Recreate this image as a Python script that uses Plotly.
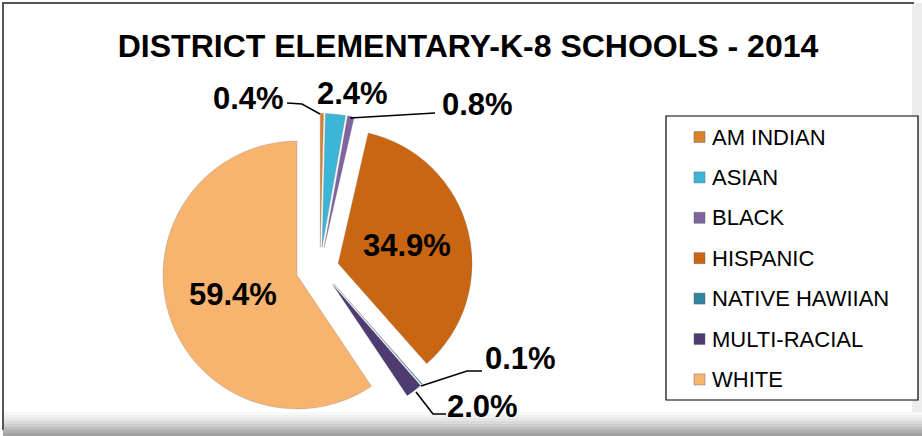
import plotly.graph_objects as go

# ---- data ----
categories = ["AM INDIAN", "ASIAN", "BLACK", "HISPANIC", "NATIVE HAWIIAN", "MULTI-RACIAL", "WHITE"]
values = [0.4, 2.4, 0.8, 34.9, 0.1, 2.0, 59.4]
title_text = "DISTRICT ELEMENTARY-K-8 SCHOOLS - 2014"

# ---- styles ----
colors = ["#D9822B", "#3DB5D6", "#8064A2", "#CA6612", "#31859C", "#4E3B72", "#F8B46F"]
pulls = [0.155, 0.155, 0.155, 0.14, 0.155, 0.155, 0.18]
inside_mask = [False, False, False, True, False, False, True]

W, H = 922, 436
FONT = "Liberation Sans, Arial, sans-serif"


def px(x, y):
    return x / W, 1 - y / H


fig = go.Figure()
fig.add_trace(go.Pie(
    labels=categories,
    values=values,
    sort=False,
    direction="clockwise",
    rotation=0,
    pull=pulls,
    marker=dict(colors=colors, line=dict(color="rgba(120,120,120,0.5)", width=0.6)),
    texttemplate=["%{value:.1f}%" if m else "" for m in inside_mask],
    textposition=["inside" if m else "none" for m in inside_mask],
    insidetextorientation="horizontal",
    textfont=dict(family=FONT, size=31, color="black", weight="bold"),
    showlegend=False,
    domain=dict(x=[162 / W, 478 / W], y=[1 - 426 / H, 1 - 110 / H]),
    hoverinfo="label+percent",
))

shapes = []
annotations = []

# outside labels for small slices (text from data)
label_pos = {0: (249, 98), 1: (352, 93), 2: (477, 104), 4: (520, 358), 5: (482, 406)}
for i, (x, y) in label_pos.items():
    xx, yy = px(x, y)
    annotations.append(dict(x=xx, y=yy, xref="paper", yref="paper", text=f"<b>{values[i]:.1f}%</b>",
                            showarrow=False, font=dict(family=FONT, size=31, color="black"),
                            xanchor="center", yanchor="middle"))

leaders = [
    [(287, 103), (302, 104), (320, 114)],
    [(435, 113), (350, 118)],
    [(482, 371), (467, 371), (421, 386)],
    [(416, 392), (433, 414), (446, 414)],
]
for pts in leaders:
    d = "M " + " L ".join(f"{px(x, y)[0]:.5f},{px(x, y)[1]:.5f}" for x, y in pts)
    shapes.append(dict(type="path", path=d, xref="paper", yref="paper",
                       line=dict(color="black", width=1.6)))

# legend (manual)
lx0, ly0, lx1, ly1 = 666, 116, 918, 400
a, b = px(lx0, ly0)
c, d = px(lx1, ly1)
shapes.append(dict(type="rect", x0=a, y0=d, x1=c, y1=b, xref="paper", yref="paper",
                   line=dict(color="black", width=1.2), fillcolor="white"))
item_y0, item_dy = 137, 40.4
for k, (cat, col) in enumerate(zip(categories, colors)):
    yc = item_y0 + k * item_dy
    s0 = px(694, yc - 5.5)
    s1 = px(705, yc + 5.5)
    shapes.append(dict(type="rect", x0=s0[0], y0=s1[1], x1=s1[0], y1=s0[1], xref="paper", yref="paper",
                       line=dict(color="rgba(90,90,90,0.7)", width=0.6), fillcolor=col))
    tx, ty = px(710, yc)
    annotations.append(dict(x=tx, y=ty, xref="paper", yref="paper", text=cat, showarrow=False,
                            font=dict(family=FONT, size=22, color="black"),
                            xanchor="left", yanchor="middle"))

# chart frame: top/left dark line, right light shadow, bottom gray gradient
p0 = px(3, 3)
p1 = px(914, 3)
p2 = px(3, 430)
shapes.append(dict(type="path", path=f"M {p2[0]},{p2[1]} L {p0[0]},{p0[1]} L {p1[0]},{p1[1]}",
                   xref="paper", yref="paper", line=dict(color="#555555", width=2)))
r0 = px(912, 3)
r1 = px(922, 436)
shapes.append(dict(type="rect", x0=r0[0], y0=r1[1], x1=r1[0], y1=r0[1], xref="paper", yref="paper",
                   line=dict(width=0), fillcolor="#ececec", layer="below"))
grad = ["#f8f8f8", "#f0f0f0", "#e6e6e6", "#dadada", "#cccccc", "#bdbdbd", "#afafaf", "#a2a2a2"]
for k, g in enumerate(grad):
    y_top = 412 + k * 3
    q0 = px(3, y_top)
    q1 = px(922, y_top + 3)
    shapes.append(dict(type="rect", x0=q0[0], y0=q1[1], x1=q1[0], y1=q0[1], xref="paper", yref="paper",
                       line=dict(width=0), fillcolor=g, layer="below"))

fig.update_layout(
    width=W, height=H,
    margin=dict(l=0, r=0, t=0, b=0),
    paper_bgcolor="white",
    plot_bgcolor="white",
    title=dict(text=f"<b>{title_text}</b>", x=468 / W, xanchor="center", y=1 - 46 / H, yanchor="middle",
               yref="container", font=dict(family=FONT, size=32, color="black")),
    shapes=shapes,
    annotations=annotations,
)

fig.write_html(
    "out.html",
    config={"displayModeBar": False},
    post_script="document.body.style.margin='0';document.body.style.padding='0';"
                "document.documentElement.style.overflow='hidden';document.body.style.overflow='hidden';",
)
